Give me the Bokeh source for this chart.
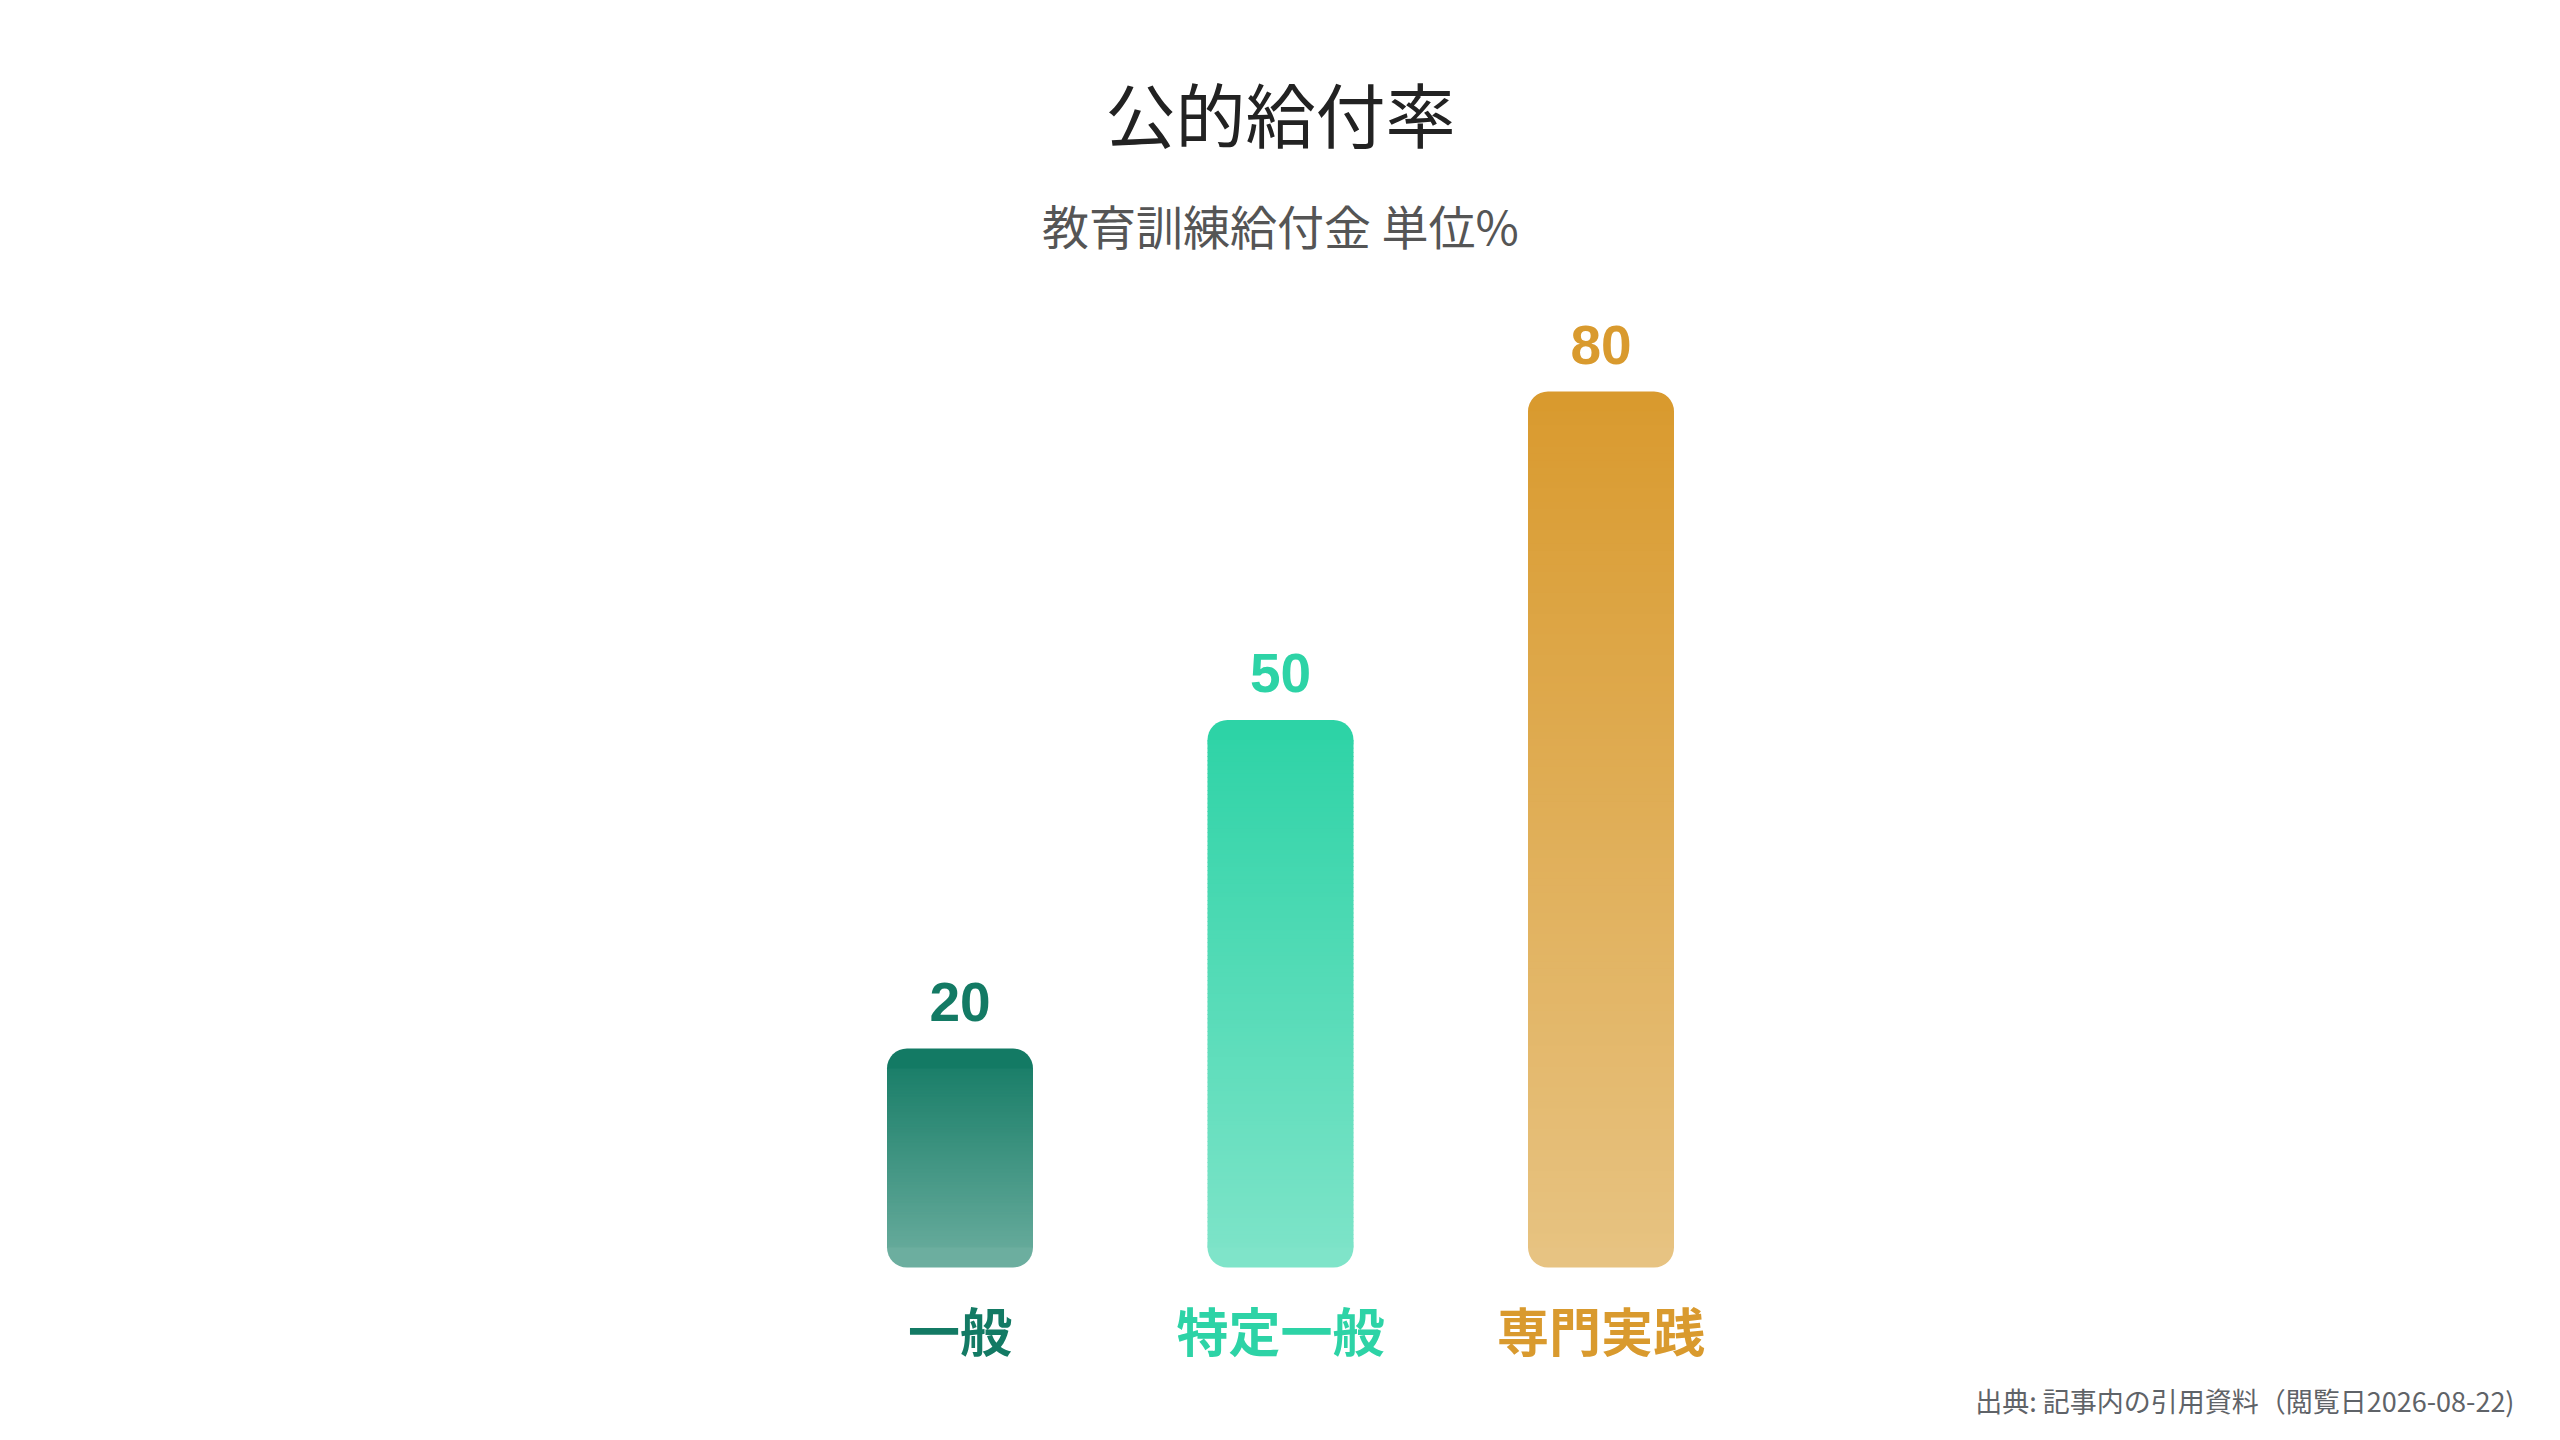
import numpy as np
from bokeh.plotting import figure
from bokeh.models import Range1d, ColumnDataSource
from bokeh.core.properties import value
from bokeh.embed import file_html
from bokeh.resources import INLINE

# ---- data ----
categories = ["一般", "特定一般", "専門実践"]
values = [20, 50, 80]
value_labels = ["20", "50", "80"]
title_text = "公的給付率"
subtitle_text = "教育訓練給付金 単位%"
source_text = "出典: 記事内の引用資料（閲覧日2026-08-22)"

# ---- styles ----
top_colors = ["#137a64", "#2dd3a6", "#d99a2e"]
bottom_colors = ["#6cae9f", "#7fe4c9", "#e7c382"]
label_colors = ["#137a64", "#2dd3a6", "#d99a2e"]

W, H = 2544, 1424
XPX = 320.5          # pixels per category step
YPX = 10.95          # pixels per unit
CENTER_X = 1280
BASE_FROM_BOTTOM = 157
BAR_W_PX = 146
RADIUS_PX = 20

xs = list(range(len(categories)))
x0 = 1 - CENTER_X / XPX
x1 = x0 + W / XPX
y0 = -BASE_FROM_BOTTOM / YPX
y1 = y0 + H / YPX

p = figure(width=W, height=H, output_backend="svg", toolbar_location=None,
           x_range=Range1d(x0, x1), y_range=Range1d(y0, y1),
           x_axis_type=None, y_axis_type=None, min_border=0,
           min_border_left=0, min_border_right=0, min_border_top=0, min_border_bottom=0)
p.outline_line_color = None
p.background_fill_color = "white"
p.border_fill_color = "white"


def hex2rgb(h):
    return tuple(int(h[i:i + 2], 16) for i in (1, 3, 5))


def mix(c_lo, c_hi, t):
    a, b = hex2rgb(c_lo), hex2rgb(c_hi)
    return "#%02x%02x%02x" % tuple(int(round(a[k] + (b[k] - a[k]) * t)) for k in range(3))


bar_w = BAR_W_PX / XPX
r = RADIUS_PX / YPX
for x, v, ct, cb in zip(xs, values, top_colors, bottom_colors):
    # rounded caps
    p.vbar(x=[x], width=bar_w, bottom=[v - 2 * r], top=[v], fill_color=ct,
           line_color=None, border_radius=RADIUS_PX)
    p.vbar(x=[x], width=bar_w, bottom=[0], top=[2 * r], fill_color=cb,
           line_color=None, border_radius=RADIUS_PX)
    # vertical gradient body
    n = 120
    edges = np.linspace(r, v - r, n + 1)
    bots = edges[:-1]
    tops = edges[1:].copy()
    tops[:-1] += 0.8 / YPX
    mids = (edges[:-1] + edges[1:]) / 2 / v
    cols = [mix(cb, ct, t) for t in mids]
    p.vbar(x=[x] * n, width=bar_w, bottom=bots, top=tops, fill_color=cols,
           line_color=None)

# value labels above bars
vsrc = ColumnDataSource(dict(x=xs, y=[v + 47 / YPX for v in values],
                             t=value_labels, c=label_colors))
p.text(x="x", y="y", text="t", source=vsrc, text_color="c",
       text_font=value("Liberation Sans"), text_font_style="bold",
       text_font_size="55px", text_align="center", text_baseline="alphabetic")

# category labels below bars
csrc = ColumnDataSource(dict(x=xs, y=[-62 / YPX] * len(xs), t=categories, c=label_colors))
p.text(x="x", y="y", text="t", source=csrc, text_color="c",
       text_font=value("Noto Sans CJK JP"), text_font_style="bold",
       text_font_size="52px", text_align="center", text_baseline="middle")

# title / subtitle / source
p.text(x=[1], y=[y1 - 112 / YPX], text=[title_text], text_color="#222222",
       text_font=value("Noto Sans CJK JP"), text_font_size="70px",
       text_align="center", text_baseline="middle")
p.text(x=[1], y=[y1 - 224 / YPX], text=[subtitle_text], text_color="#555555",
       text_font=value("Noto Sans CJK JP"), text_font_size="47px",
       text_align="center", text_baseline="middle")
p.text(x=[x0 + 2514 / XPX], y=[y1 - 1400 / YPX], text=[source_text], text_color="#5f6368",
       text_font=value("Noto Sans CJK JP"), text_font_size="27px",
       text_align="right", text_baseline="middle")

open("out.html", "w").write(file_html(p, INLINE))
